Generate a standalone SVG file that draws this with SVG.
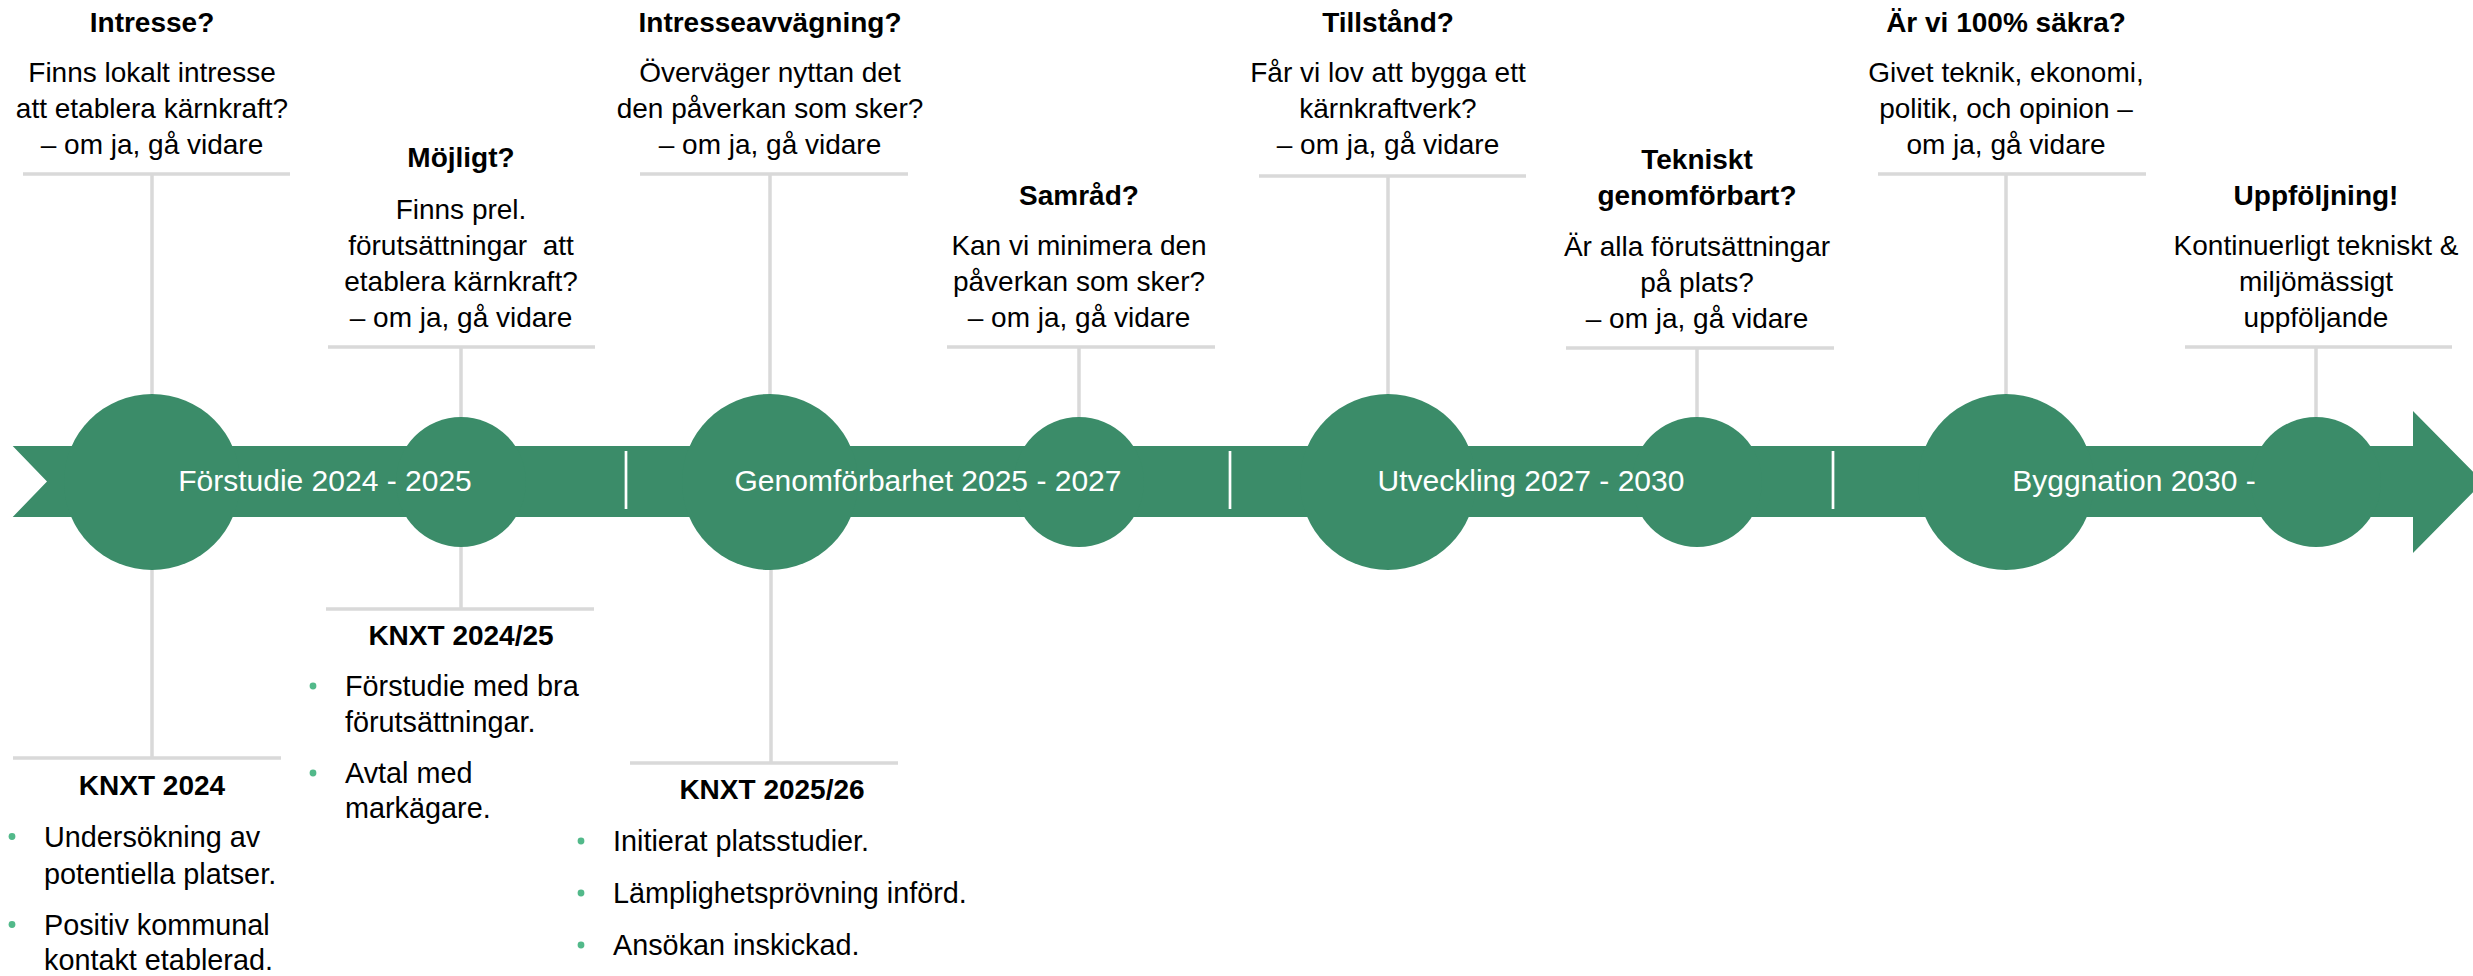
<svg xmlns="http://www.w3.org/2000/svg" width="2473" height="976" viewBox="0 0 2473 976">
<style>
text{font-family:"Liberation Sans",Arial,sans-serif;fill:#000;}
.t{font-size:28px;font-weight:bold;text-anchor:middle;}
.b{font-size:28px;text-anchor:middle;}
.l{font-size:28.8px;}
.band{font-size:30px;fill:#fff;text-anchor:middle;}
.g{fill:#3b8c69;}
.dot{fill:#52b98a;}
.c line{stroke:#d9d9d9;stroke-width:3.5;}
.sep{stroke:#fff;stroke-width:2.7;}
</style>
<rect width="2473" height="976" fill="#fff"/>
<g id="connectors" class="c">
<line x1="23" y1="174" x2="290" y2="174"/><line x1="152" y1="174" x2="152" y2="400"/>
<line x1="328" y1="347" x2="595" y2="347"/><line x1="461" y1="347" x2="461" y2="420"/>
<line x1="640" y1="174" x2="908" y2="174"/><line x1="770" y1="174" x2="770" y2="400"/>
<line x1="947" y1="347" x2="1215" y2="347"/><line x1="1079" y1="347" x2="1079" y2="420"/>
<line x1="1259" y1="176" x2="1526" y2="176"/><line x1="1388" y1="176" x2="1388" y2="400"/>
<line x1="1566" y1="348" x2="1834" y2="348"/><line x1="1697" y1="348" x2="1697" y2="420"/>
<line x1="1878" y1="174" x2="2146" y2="174"/><line x1="2006" y1="174" x2="2006" y2="400"/>
<line x1="2185" y1="347" x2="2452" y2="347"/><line x1="2316" y1="347" x2="2316" y2="420"/>
<line x1="152" y1="565" x2="152" y2="758"/><line x1="13" y1="758" x2="281" y2="758"/>
<line x1="461" y1="540" x2="461" y2="609"/><line x1="326" y1="609" x2="594" y2="609"/>
<line x1="771" y1="565" x2="771" y2="763"/><line x1="630" y1="763" x2="898" y2="763"/>
</g>
<g id="timeline">
<polygon class="g" points="12.7,446 2413,446 2413,411 2483,482 2413,553 2413,517 12.7,517 47,481.5"/>
<circle class="g" cx="152" cy="482" r="88"/>
<circle class="g" cx="461" cy="482" r="65"/>
<circle class="g" cx="770" cy="482" r="88"/>
<circle class="g" cx="1079" cy="482" r="65"/>
<circle class="g" cx="1388" cy="482" r="88"/>
<circle class="g" cx="1697" cy="482" r="65"/>
<circle class="g" cx="2006" cy="482" r="88"/>
<circle class="g" cx="2316" cy="482" r="65"/>
<line class="sep" x1="626" y1="451" x2="626" y2="509"/>
<line class="sep" x1="1230" y1="451" x2="1230" y2="509"/>
<line class="sep" x1="1833" y1="451" x2="1833" y2="509"/>
<text class="band" x="325" y="491">Förstudie 2024 - 2025</text>
<text class="band" x="928" y="491">Genomförbarhet 2025 - 2027</text>
<text class="band" x="1531" y="491">Utveckling 2027 - 2030</text>
<text class="band" x="2134" y="491">Byggnation 2030 -</text>
</g>
<g id="node-intresse">
<text class="t" x="152" y="32">Intresse?</text>
<text class="b" x="152" y="82">Finns lokalt intresse</text>
<text class="b" x="152" y="118">att etablera kärnkraft?</text>
<text class="b" x="152" y="154">– om ja, gå vidare</text>
</g>
<g id="node-mojligt">
<text class="t" x="461" y="167">Möjligt?</text>
<text class="b" x="461" y="219">Finns prel.</text>
<text class="b" x="461" y="255" xml:space="preserve">förutsättningar  att</text>
<text class="b" x="461" y="291">etablera kärnkraft?</text>
<text class="b" x="461" y="327">– om ja, gå vidare</text>
</g>
<g id="node-intresseavvagning">
<text class="t" x="770" y="32">Intresseavvägning?</text>
<text class="b" x="770" y="82">Överväger nyttan det</text>
<text class="b" x="770" y="118">den påverkan som sker?</text>
<text class="b" x="770" y="154">– om ja, gå vidare</text>
</g>
<g id="node-samrad">
<text class="t" x="1079" y="205">Samråd?</text>
<text class="b" x="1079" y="255">Kan vi minimera den</text>
<text class="b" x="1079" y="291">påverkan som sker?</text>
<text class="b" x="1079" y="327">– om ja, gå vidare</text>
</g>
<g id="node-tillstand">
<text class="t" x="1388" y="32">Tillstånd?</text>
<text class="b" x="1388" y="82">Får vi lov att bygga ett</text>
<text class="b" x="1388" y="118">kärnkraftverk?</text>
<text class="b" x="1388" y="154">– om ja, gå vidare</text>
</g>
<g id="node-tekniskt">
<text class="t" x="1697" y="169">Tekniskt</text>
<text class="t" x="1697" y="205">genomförbart?</text>
<text class="b" x="1697" y="256">Är alla förutsättningar</text>
<text class="b" x="1697" y="292">på plats?</text>
<text class="b" x="1697" y="328">– om ja, gå vidare</text>
</g>
<g id="node-sakra">
<text class="t" x="2006" y="32">Är vi 100% säkra?</text>
<text class="b" x="2006" y="82">Givet teknik, ekonomi,</text>
<text class="b" x="2006" y="118">politik, och opinion –</text>
<text class="b" x="2006" y="154">om ja, gå vidare</text>
</g>
<g id="node-uppfoljning">
<text class="t" x="2316" y="205">Uppföljning!</text>
<text class="b" x="2316" y="255">Kontinuerligt tekniskt &amp;</text>
<text class="b" x="2316" y="291">miljömässigt</text>
<text class="b" x="2316" y="327">uppföljande</text>
</g>
<g id="node-knxt2024">
<text class="t" x="152" y="795">KNXT 2024</text>
<circle class="dot" cx="12" cy="836.5" r="3.4"/>
<text class="l" x="44" y="847">Undersökning av</text>
<text class="l" x="44" y="884">potentiella platser.</text>
<circle class="dot" cx="12" cy="924.5" r="3.4"/>
<text class="l" x="44" y="935">Positiv kommunal</text>
<text class="l" x="44" y="970">kontakt etablerad.</text>
</g>
<g id="node-knxt2024-25">
<text class="t" x="461" y="645">KNXT 2024/25</text>
<circle class="dot" cx="313" cy="686" r="3.4"/>
<text class="l" x="345" y="696">Förstudie med bra</text>
<text class="l" x="345" y="732">förutsättningar.</text>
<circle class="dot" cx="313" cy="773" r="3.4"/>
<text class="l" x="345" y="783">Avtal med</text>
<text class="l" x="345" y="818">markägare.</text>
</g>
<g id="node-knxt2025-26">
<text class="t" x="772" y="799">KNXT 2025/26</text>
<circle class="dot" cx="581" cy="841" r="3.4"/>
<text class="l" x="613" y="851">Initierat platsstudier.</text>
<circle class="dot" cx="581" cy="893" r="3.4"/>
<text class="l" x="613" y="903">Lämplighetsprövning införd.</text>
<circle class="dot" cx="581" cy="945" r="3.4"/>
<text class="l" x="613" y="955">Ansökan inskickad.</text>
</g>
</svg>
